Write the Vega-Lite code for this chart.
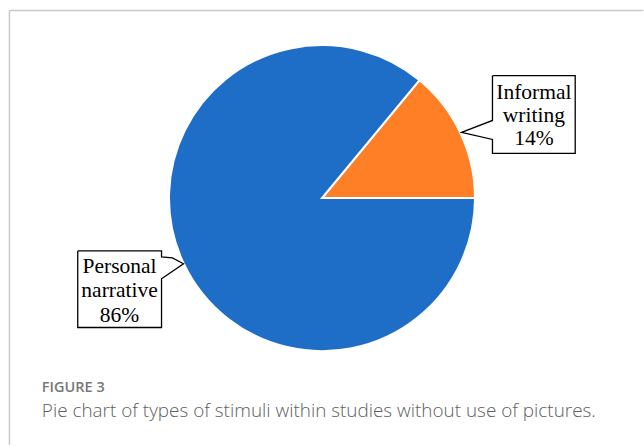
{
  "$schema": "https://vega.github.io/schema/vega-lite/v6.json",
  "width": 644,
  "height": 446,
  "autosize": {"type": "fit", "contains": "padding"},
  "padding": 0,
  "background": "white",
  "config": {"view": {"stroke": null}},
  "datasets": {
    "slices": [
      {"type": "Informal writing", "share": 14, "from": 0, "to": 14},
      {"type": "Personal narrative", "share": 86, "from": 14, "to": 100}
    ],
    "frame": [
      {"x": -2.0625, "x2": 2.12, "y": 1.2401, "y2": 1.2401},
      {"x": -2.0625, "x2": -2.0625, "y": 1.2401, "y2": -1.63}
    ],
    "callouts": [
      {"box": "informal", "i": 0, "x": 1.125, "y": 0.809},
      {"box": "informal", "i": 1, "x": 1.671, "y": 0.809},
      {"box": "informal", "i": 2, "x": 1.671, "y": 0.296},
      {"box": "informal", "i": 3, "x": 1.125, "y": 0.296},
      {"box": "informal", "i": 4, "x": 1.125, "y": 0.388},
      {"box": "informal", "i": 5, "x": 0.921, "y": 0.434},
      {"box": "informal", "i": 6, "x": 1.125, "y": 0.513},
      {"box": "informal", "i": 7, "x": 1.125, "y": 0.809},
      {"box": "personal", "i": 0, "x": -1.612, "y": -0.349},
      {"box": "personal", "i": 1, "x": -1.059, "y": -0.349},
      {"box": "personal", "i": 2, "x": -1.059, "y": -0.388},
      {"box": "personal", "i": 3, "x": -0.987, "y": -0.395},
      {"box": "personal", "i": 4, "x": -0.914, "y": -0.434},
      {"box": "personal", "i": 5, "x": -1.059, "y": -0.533},
      {"box": "personal", "i": 6, "x": -1.059, "y": -0.855},
      {"box": "personal", "i": 7, "x": -1.612, "y": -0.855},
      {"box": "personal", "i": 8, "x": -1.612, "y": -0.349}
    ],
    "labels": [
      {"text": "Informal", "x": 1.398, "y": 0.658},
      {"text": "writing", "x": 1.398, "y": 0.503},
      {"text": "14%", "x": 1.398, "y": 0.349},
      {"text": "Personal", "x": -1.336, "y": -0.493},
      {"text": "narrative", "x": -1.336, "y": -0.651},
      {"text": "86%", "x": -1.336, "y": -0.816}
    ],
    "caption": [
      {"text": "FIGURE 3", "x": -1.8487, "y": -1.2829}
    ],
    "captionBody": [
      {"text": "Pie chart of types of stimuli within studies without use of pictures.", "x": -1.8487, "y": -1.4474}
    ]
  },
  "layer": [
    {
      "data": {"name": "frame"},
      "mark": {"type": "rule", "stroke": "#c9c9c9", "strokeWidth": 1.5},
      "encoding": {
        "x": {"field": "x", "type": "quantitative", "scale": {"domain": [-2.125, 2.1118], "nice": false, "zero": false}, "axis": null},
        "y": {"field": "y", "type": "quantitative", "scale": {"domain": [-1.625, 1.3092], "nice": false, "zero": false}, "axis": null},
        "x2": {"field": "x2"},
        "y2": {"field": "y2"}
      }
    },
    {
      "data": {"name": "slices"},
      "mark": {"type": "arc", "outerRadius": 153, "stroke": "white", "strokeWidth": 2},
      "encoding": {
        "x": {"datum": 0, "type": "quantitative"},
        "y": {"datum": 0, "type": "quantitative"},
        "theta": {"field": "from", "type": "quantitative", "scale": {"domain": [0, 100], "range": [0.6912, 6.9744]}},
        "theta2": {"field": "to"},
        "color": {
          "field": "type",
          "type": "nominal",
          "scale": {"domain": ["Informal writing", "Personal narrative"], "range": ["#FF7F27", "#1E6EC8"]},
          "legend": null
        }
      }
    },
    {
      "data": {"name": "callouts"},
      "mark": {"type": "line", "stroke": "black", "strokeWidth": 1.3, "strokeJoin": "miter"},
      "encoding": {
        "x": {"field": "x", "type": "quantitative"},
        "y": {"field": "y", "type": "quantitative"},
        "detail": {"field": "box"},
        "order": {"field": "i"}
      }
    },
    {
      "data": {"name": "labels"},
      "mark": {"type": "text", "font": "Liberation Serif", "fontSize": 21.5, "align": "center", "baseline": "alphabetic", "color": "black"},
      "encoding": {
        "x": {"field": "x", "type": "quantitative"},
        "y": {"field": "y", "type": "quantitative"},
        "text": {"field": "text"}
      }
    },
    {
      "data": {"name": "caption"},
      "mark": {"type": "text", "font": "Open Sans", "fontSize": 14.5, "fontWeight": 600, "align": "left", "baseline": "alphabetic", "color": "#777777"},
      "encoding": {
        "x": {"field": "x", "type": "quantitative"},
        "y": {"field": "y", "type": "quantitative"},
        "text": {"field": "text"}
      }
    },
    {
      "data": {"name": "captionBody"},
      "mark": {"type": "text", "font": "Open Sans", "fontSize": 18.9, "fontWeight": 300, "align": "left", "baseline": "alphabetic", "color": "#606060"},
      "encoding": {
        "x": {"field": "x", "type": "quantitative"},
        "y": {"field": "y", "type": "quantitative"},
        "text": {"field": "text"}
      }
    }
  ]
}
